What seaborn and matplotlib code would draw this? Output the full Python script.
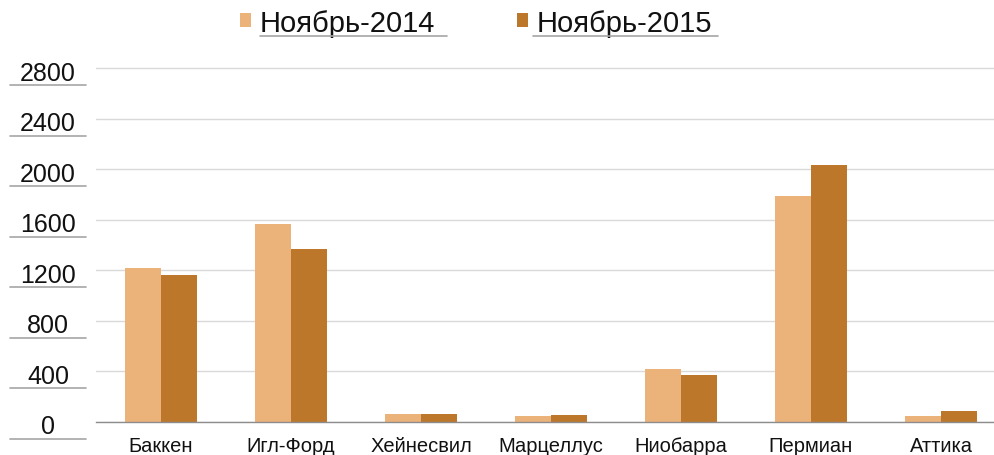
import matplotlib
matplotlib.use("Agg")
import matplotlib.pyplot as plt
import seaborn as sns
import pandas as pd
from matplotlib.lines import Line2D
from matplotlib.transforms import blended_transform_factory, ScaledTranslation

categories = ["Баккен", "Игл-Форд", "Хейнесвил", "Марцеллус", "Ниобарра", "Пермиан", "Аттика"]
series_names = ["Ноябрь-2014", "Ноябрь-2015"]
values_2014 = [1220, 1570, 60, 45, 420, 1790, 50]
values_2015 = [1160, 1370, 62, 52, 370, 2030, 85]
y_ticks = [0, 400, 800, 1200, 1600, 2000, 2400, 2800]
colors = ["#EBB27A", "#BD772B"]

df = pd.DataFrame({
    "region": categories * 2,
    "series": [series_names[0]] * len(categories) + [series_names[1]] * len(categories),
    "value": values_2014 + values_2015,
})

sns.set_style("white")
plt.rcParams["font.family"] = ["Liberation Sans", "DejaVu Sans"]
plt.rcParams["text.color"] = "#111111"

W, H = 995, 456
fig = plt.figure(figsize=(W / 100, H / 100), dpi=100)
ax_bottom = (H - 423) / H
ax_top = (H - 62.7) / H
ax = fig.add_axes([96 / W, ax_bottom, (1006 - 96) / W, ax_top - ax_bottom])

sns.barplot(data=df, x="region", y="value", hue="series", order=categories,
            hue_order=series_names, palette=colors, width=0.555, gap=0,
            saturation=1, ax=ax, edgecolor="none", linewidth=0)

ax.set_ylim(0, 2850)
ax.set_xlim(-0.5, len(categories) - 0.5)
ax.set_xlabel("")
ax.set_ylabel("")

for s in ["top", "right", "left"]:
    ax.spines[s].set_visible(False)
ax.spines["bottom"].set_color("#8C8C8C")
ax.spines["bottom"].set_linewidth(1.0)

ax.set_yticks(y_ticks)
ax.set_yticklabels([])
ax.tick_params(axis="y", length=0)
ax.yaxis.grid(True, color="#D9D9D9", linewidth=1.0)
ax.set_axisbelow(True)

ax.set_xticks(range(len(categories)))
ax.set_xticklabels(categories, fontsize=14.5, color="#111111")
ax.tick_params(axis="x", which="major", length=0, pad=10)
ax.set_xticks([i - 0.5 for i in range(len(categories) + 1)], minor=True)
ax.tick_params(axis="x", which="minor", length=5, color="#8C8C8C", width=1, direction="out")

# y tick labels with underline (as in reference)
trans = blended_transform_factory(fig.transFigure, ax.transData) + \
    ScaledTranslation(0, -4.5 / 100, fig.dpi_scale_trans)
for v in y_ticks:
    ax.text(48 / W, v, str(v), transform=trans, ha="center", va="center",
            fontsize=18, color="#111111")
for v in y_ticks:
    y_px = 423 - v * (423 - 69) / 2800 + 17
    fig.add_artist(Line2D([10 / W, 86 / W], [(H - y_px) / H] * 2,
                          transform=fig.transFigure, color="#A6A6A6", linewidth=1.2))

# legend
sns.move_legend(ax, "center", bbox_to_anchor=(476 / W, (H - 23.5) / H),
                bbox_transform=fig.transFigure, ncol=2, frameon=False, title=None,
                fontsize=21, handlelength=0.38, handleheight=0.38,
                handletextpad=0.31, columnspacing=2.8, borderaxespad=0, borderpad=0)
for x0, x1 in [(260, 447), (533, 718)]:
    fig.add_artist(Line2D([x0 / W, x1 / W], [(H - 37) / H] * 2,
                          transform=fig.transFigure, color="#A6A6A6", linewidth=1.2))

fig.savefig("out.png", dpi=100)
